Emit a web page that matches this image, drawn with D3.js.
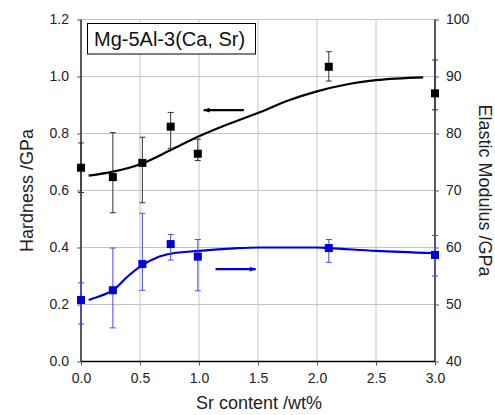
<!DOCTYPE html>
<html>
<head>
<meta charset="utf-8">
<script src="https://cdn.jsdelivr.net/npm/d3@7"></script>
<style>
  body { margin: 0; background: #fff; }
  text { font-family: "Liberation Sans", Arial, sans-serif; }
</style>
</head>
<body>
<div id="chart"></div>
<script>
// Sr content of the alloys (wt%)
var srContent = [0.0, 0.27, 0.52, 0.76, 0.99, 2.1, 3.0];

// Hardness (GPa), left axis, with error bar ends
var hardness = [0.68, 0.647, 0.697, 0.824, 0.729, 1.034, 0.941];
var hardnessLow = [0.593, 0.522, 0.557, 0.748, 0.705, 0.984, 0.883];
var hardnessHigh = [0.767, 0.803, 0.787, 0.874, 0.78, 1.087, 1.058];

// Elastic modulus (GPa), right axis, with error bar ends
var modulus = [50.8, 52.5, 57.1, 60.6, 58.4, 59.9, 58.7];
var modulusLow = [46.6, 45.9, 52.5, 57.8, 52.4, 57.4, 55.0];
var modulusHigh = [53.8, 59.9, 66.0, 62.3, 61.4, 61.4, 62.1];

// fitted trend lines
var hardFitX = [0.065, 0.27, 0.52, 0.76, 1.0, 1.25, 1.5, 1.75, 2.0, 2.25, 2.5, 2.9];
var hardFitY = [0.652, 0.666, 0.695, 0.742, 0.79, 0.833, 0.872, 0.915, 0.948, 0.972, 0.987, 0.997];
var modFitX = [0.065, 0.15, 0.27, 0.4, 0.52, 0.65, 0.76, 1.0, 1.3, 1.5, 2.0, 2.1, 2.5, 3.0];
var modFitY = [50.8, 51.4, 52.5, 55.0, 56.9, 58.3, 58.9, 59.4, 59.85, 60.0, 60.0, 59.9, 59.4, 59.0];

// tick labels
var xTicks = [0, 0.5, 1.0, 1.5, 2.0, 2.5, 3.0];
var hardTicks = [0, 0.2, 0.4, 0.6, 0.8, 1.0, 1.2];
var modTicks = [40, 50, 60, 70, 80, 90, 100];

// direction arrows: [x start, x end, value], head at the end
var hardArrow = [1.38, 1.04, 0.882];
var modArrow = [1.14, 1.48, 56.2];

var svgWidth = 495;
var svgHeight = 415;
var margin = { top: 19.5, right: 60, bottom: 53.5, left: 81 };
var width = svgWidth - margin.left - margin.right;
var height = svgHeight - margin.top - margin.bottom;

var blue = "#0000d8";

var svg = d3.select("#chart")
  .append("svg")
  .attr("width", svgWidth)
  .attr("height", svgHeight);

var defs = svg.append("defs");
[["headBlack", "#000"], ["headBlue", blue]].forEach(function (m) {
  defs.append("marker")
    .attr("id", m[0])
    .attr("viewBox", "0 0 10 10")
    .attr("refX", 9)
    .attr("refY", 5)
    .attr("markerWidth", 3.5)
    .attr("markerHeight", 3)
    .attr("markerUnits", "strokeWidth")
    .attr("orient", "auto")
    .append("path")
    .attr("d", "M0,1.5L10,5L0,8.5Z")
    .attr("fill", m[1]);
});

var g = svg.append("g")
  .attr("transform", `translate(${margin.left}, ${margin.top})`);

var x = d3.scaleLinear().domain([0, 3]).range([0, width]);
var yHard = d3.scaleLinear().domain([0, 1.2]).range([height, 0]);
var yMod = d3.scaleLinear().domain([40, 100]).range([height, 0]);

// grid
g.append("g").selectAll("line")
  .data(xTicks.slice(1, -1))
  .enter().append("line")
  .attr("x1", d => x(d)).attr("x2", d => x(d))
  .attr("y1", 0).attr("y2", height)
  .attr("stroke", "#c4c4c4").attr("stroke-width", 1);

g.append("g").selectAll("line")
  .data(hardTicks.slice(1))
  .enter().append("line")
  .attr("x1", 0).attr("x2", width)
  .attr("y1", d => yHard(d)).attr("y2", d => yHard(d))
  .attr("stroke", "#c4c4c4").attr("stroke-width", 1);

// axes
var leftAxis = d3.axisLeft(yHard).tickValues(hardTicks).tickFormat(d3.format(".1f")).tickSize(4).tickPadding(8);
var rightAxis = d3.axisRight(yMod).tickValues(modTicks).tickSize(4).tickPadding(7);
var bottomAxis = d3.axisBottom(x).tickValues(xTicks).tickFormat(d3.format(".1f")).tickSize(4).tickPadding(8);

function styleAxis(sel) {
  sel.select(".domain").attr("stroke", "#000").attr("stroke-width", 1.3);
  sel.selectAll(".tick line").attr("stroke", "#555");
  sel.selectAll(".tick text")
    .attr("fill", "#222")
    .style("font-size", "14px")
    .style("font-family", "'Liberation Sans', Arial, sans-serif");
}

g.append("g").call(leftAxis).call(styleAxis).select(".domain").attr("d", `M0,${height}V0`);
g.append("g").attr("transform", `translate(${width},0)`).call(rightAxis).call(styleAxis)
  .select(".domain").attr("d", `M0,${height}V0`);
g.append("g").attr("transform", `translate(0,${height})`).call(bottomAxis).call(styleAxis)
  .select(".domain").attr("d", `M0,0H${width}`);

// fitted lines
var hardLine = d3.line()
  .x(d => x(d[0])).y(d => yHard(d[1]))
  .curve(d3.curveMonotoneX);
var modLine = d3.line()
  .x(d => x(d[0])).y(d => yMod(d[1]))
  .curve(d3.curveMonotoneX);

g.append("path")
  .datum(d3.zip(hardFitX, hardFitY))
  .attr("d", hardLine)
  .attr("fill", "none").attr("stroke", "#000").attr("stroke-width", 2.2);

g.append("path")
  .datum(d3.zip(modFitX, modFitY))
  .attr("d", modLine)
  .attr("fill", "none").attr("stroke", blue).attr("stroke-width", 2.2);

// error bars
function errorBars(low, high, yScale, color) {
  var eg = g.append("g").attr("stroke", color).attr("stroke-width", 1);
  srContent.forEach(function (s, i) {
    var cx = x(s);
    eg.append("line").attr("x1", cx).attr("x2", cx)
      .attr("y1", yScale(low[i])).attr("y2", yScale(high[i]));
    [low[i], high[i]].forEach(function (v) {
      eg.append("line").attr("x1", cx - 3).attr("x2", cx + 3)
        .attr("y1", yScale(v)).attr("y2", yScale(v));
    });
  });
}
errorBars(hardnessLow, hardnessHigh, yHard, "#333");
errorBars(modulusLow, modulusHigh, yMod, "#4a4ae6");

// markers
g.append("g").selectAll("rect")
  .data(d3.zip(srContent, hardness))
  .enter().append("rect")
  .attr("x", d => x(d[0]) - 4).attr("y", d => yHard(d[1]) - 4)
  .attr("width", 8).attr("height", 8)
  .attr("fill", "#000");

g.append("g").selectAll("rect")
  .data(d3.zip(srContent, modulus))
  .enter().append("rect")
  .attr("x", d => x(d[0]) - 4).attr("y", d => yMod(d[1]) - 4)
  .attr("width", 8).attr("height", 8)
  .attr("fill", blue);

// arrows pointing to each series' axis
g.append("line")
  .attr("x1", x(hardArrow[0])).attr("x2", x(hardArrow[1]))
  .attr("y1", yHard(hardArrow[2])).attr("y2", yHard(hardArrow[2]))
  .attr("stroke", "#000").attr("stroke-width", 2.2)
  .attr("marker-end", "url(#headBlack)");

g.append("line")
  .attr("x1", x(modArrow[0])).attr("x2", x(modArrow[1]))
  .attr("y1", yMod(modArrow[2])).attr("y2", yMod(modArrow[2]))
  .attr("stroke", blue).attr("stroke-width", 2.2)
  .attr("marker-end", "url(#headBlue)");

// label box
g.append("rect")
  .attr("x", 6.5).attr("y", 4)
  .attr("width", 168).attr("height", 30.5)
  .attr("fill", "#fff").attr("stroke", "#000").attr("stroke-width", 1);

g.append("text")
  .attr("x", 13).attr("y", 26.5)
  .attr("font-size", "20px")
  .attr("fill", "#111")
  .text("Mg-5Al-3(Ca, Sr)");

// axis titles
svg.append("text")
  .attr("transform", `translate(33, ${margin.top + height / 2}) rotate(-90)`)
  .attr("text-anchor", "middle")
  .attr("font-size", "18px")
  .attr("fill", "#222")
  .text("Hardness /GPa");

svg.append("text")
  .attr("transform", `translate(479, ${margin.top + height / 2}) rotate(90)`)
  .attr("text-anchor", "middle")
  .attr("font-size", "18px")
  .attr("fill", "#222")
  .text("Elastic Modulus /GPa");

svg.append("text")
  .attr("x", margin.left + width / 2 + 1)
  .attr("y", 409)
  .attr("text-anchor", "middle")
  .attr("font-size", "18px")
  .attr("fill", "#222")
  .text("Sr content /wt%");
</script>
</body>
</html>
